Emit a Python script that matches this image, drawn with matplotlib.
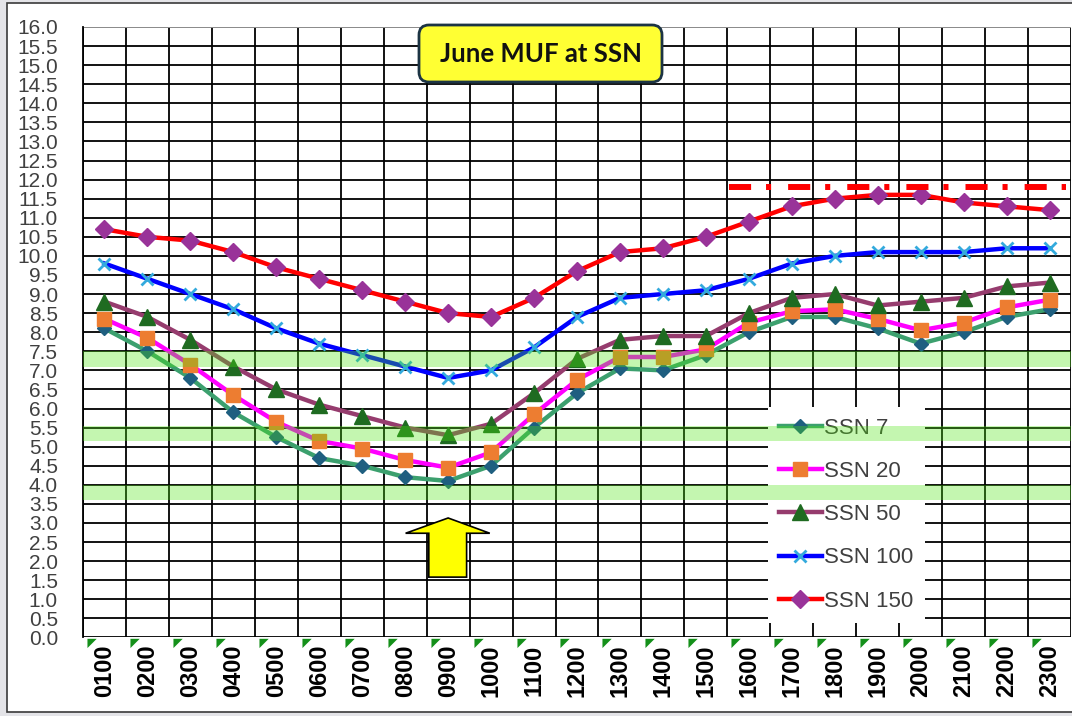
import numpy as np
import matplotlib
matplotlib.use('Agg')
import matplotlib.pyplot as plt
import matplotlib.patches as mpatches
from matplotlib.transforms import IdentityTransform

# hours of the day (UTC)
hours = ['0100', '0200', '0300', '0400', '0500', '0600', '0700', '0800', '0900', '1000', '1100', '1200',
         '1300', '1400', '1500', '1600', '1700', '1800', '1900', '2000', '2100', '2200', '2300']

# MUF values (MHz) per sunspot number
ssn7 = [8.1, 7.5, 6.8, 5.9, 5.25, 4.7, 4.5, 4.2, 4.1, 4.5, 5.5, 6.4, 7.05, 7.0, 7.4, 8.0, 8.4, 8.4, 8.1, 7.7, 8.0, 8.4, 8.6]
ssn20 = [8.35, 7.85, 7.15, 6.35, 5.65, 5.15, 4.95, 4.65, 4.45, 4.85, 5.85, 6.75, 7.35, 7.35, 7.55, 8.25, 8.55, 8.6, 8.35, 8.05, 8.25, 8.65, 8.85]
ssn50 = [8.8, 8.4, 7.8, 7.1, 6.5, 6.1, 5.8, 5.5, 5.3, 5.6, 6.4, 7.3, 7.8, 7.9, 7.9, 8.5, 8.9, 9.0, 8.7, 8.8, 8.9, 9.2, 9.3]
ssn100 = [9.8, 9.4, 9.0, 8.6, 8.1, 7.7, 7.4, 7.1, 6.8, 7.0, 7.6, 8.4, 8.9, 9.0, 9.1, 9.4, 9.8, 10.0, 10.1, 10.1, 10.1, 10.2, 10.2]
ssn150 = [10.7, 10.5, 10.4, 10.1, 9.7, 9.4, 9.1, 8.8, 8.5, 8.4, 8.9, 9.6, 10.1, 10.2, 10.5, 10.9, 11.3, 11.5, 11.6, 11.6, 11.4, 11.3, 11.2]

# amateur bands shaded on the chart (MHz)
bands = [(3.6, 4.0), (5.15, 5.55), (7.1, 7.5)]
ref_level = 11.8

plt.rcParams['font.family'] = ['Liberation Sans', 'DejaVu Sans']

W, H = 1072, 716
fig = plt.figure(figsize=(W / 100, H / 100), dpi=100, facecolor='#e4e4e8')

# white chart area with border
frame = mpatches.Rectangle((7 / W, 4 / H), 1.1, (712 - 3) / H, transform=fig.transFigure,
                           facecolor='white', edgecolor='#3a3a3a', linewidth=1.2, zorder=-10)
fig.add_artist(frame)

ax = fig.add_axes([83 / W, (H - 637.4) / H, 988 / W, 610.4 / H])
ax.set_facecolor('none')
x = np.arange(len(hours))

series = [
    ('SSN 7', ssn7, '#3ca06e', 'D', '#1f5f80', 7, 1),
    ('SSN 20', ssn20, '#ff00ff', 's', '#ed7d31', 10.5, 1),
    ('SSN 50', ssn50, '#963c6e', '^', '#1f6b21', 11, 1),
    ('SSN 100', ssn100, '#0000ff', 'x', '#33aadd', 9, 2),
    ('SSN 150', ssn150, '#ff0000', 'D', '#993399', 9.5, 1),
]
for label, vals, lc, mk, mc, ms, mew in series:
    ax.plot(x, vals, color=lc, linewidth=3.2, marker=mk, markersize=ms,
            markerfacecolor=mc, markeredgecolor=mc, markeredgewidth=mew, label=label, zorder=3)

ax.set_xlim(-0.5, len(hours) - 0.5)
ax.set_ylim(0, 16)
ax.set_xticks(x)
ax.set_xticklabels(hours, rotation=90, fontweight='bold', fontsize=17, color='black')
ax.set_xticks(np.arange(len(hours) + 1) - 0.5, minor=True)
ax.set_yticks(np.arange(0, 16.01, 0.5))
ax.set_yticklabels(['%.1f' % v for v in np.arange(0, 16.01, 0.5)], fontsize=15, color='#404040')
ax.tick_params(axis='y', length=0, pad=18)
ax.tick_params(axis='x', which='both', length=0, pad=5)
ax.grid(axis='y', color='black', linewidth=1.3, zorder=1)
ax.grid(axis='x', which='minor', color='black', linewidth=1.3, zorder=1)
ax.set_axisbelow(True)
for s in ['top', 'right', 'bottom']:
    ax.spines[s].set_visible(False)
ax.spines['left'].set_color('black')
ax.spines['left'].set_linewidth(1.3)
ax.axhline(16, color='#999999', linewidth=1.3, zorder=2)

# green corner markers under the category cells
ax.plot(np.arange(len(hours)) - 0.5, np.zeros(len(hours)), linestyle='none',
        marker=[(0.3, -0.1), (1.0, -0.1), (0.3, -0.8)], markersize=19, color='#14901a',
        markeredgewidth=0, clip_on=False, zorder=4)

leg = ax.legend(loc='upper left', bbox_to_anchor=(0.693, 0.378), borderaxespad=0, frameon=True,
                fancybox=False, framealpha=1, edgecolor='none', facecolor='white', fontsize=16,
                handlelength=1.95, handletextpad=0.1, labelspacing=1.0, borderpad=0.5)
for t in leg.get_texts():
    t.set_color('#404040')
leg.set_zorder(5)

# shaded bands drawn over everything
for lo, hi in bands:
    ax.axhspan(lo, hi, color=(0.3, 0.9, 0.06), alpha=0.33, linewidth=0, zorder=6)

# red dash-dot reference line
ax.plot([14.55, 22.38], [ref_level, ref_level], color='red', linewidth=4.3,
        linestyle=(0, (3.7, 2.5, 0.85, 2.85)), zorder=7)

# yellow arrow pointing at the minimum
xm = int(np.argmin(ssn7))
arrow = mpatches.Polygon([(xm, 3.13), (xm + 0.97, 2.73), (xm + 0.43, 2.73), (xm + 0.43, 1.58),
                          (xm - 0.45, 1.58), (xm - 0.45, 2.73), (xm - 0.99, 2.73)],
                         closed=True, facecolor='#ffff00', edgecolor='black', linewidth=1.2, zorder=8)
ax.add_patch(arrow)

# title box
tbox = mpatches.FancyBboxPatch((419, H - 82), 243, 57, boxstyle='round,pad=0,rounding_size=10',
                               transform=IdentityTransform(), facecolor='#ffff33',
                               edgecolor='#1c3444', linewidth=2, zorder=10)
fig.add_artist(tbox)
fig.text(540.5 / W, 1 - 54 / H, 'June MUF at SSN', ha='center', va='center', fontsize=18.5,
         fontweight='bold', family=['Lato', 'DejaVu Sans'], color='#111111', zorder=11)

plt.savefig('out.png', dpi=100, facecolor=fig.get_facecolor())
